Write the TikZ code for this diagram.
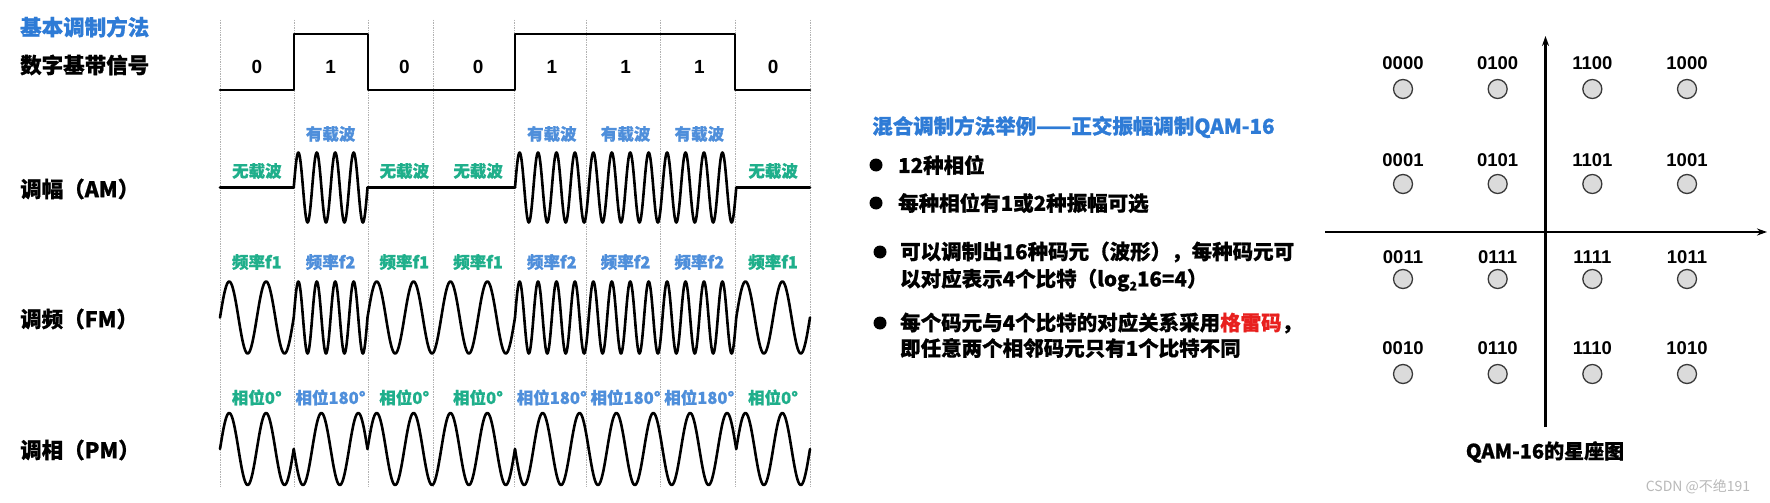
\documentclass[tikz,border=0pt]{standalone}
\usepackage{fontspec}
\setmainfont{Liberation Sans}
\newfontfamily\cjk{Noto Sans CJK SC}[BoldFeatures={FakeBold=0.8}]
\usetikzlibrary{arrows.meta}
\definecolor{tblue}{HTML}{2E7BD6}
\definecolor{lblue}{HTML}{4F8FDB}
\definecolor{lgreen}{HTML}{1FAF8B}
\definecolor{redc}{HTML}{E8201E}
\newcommand{\fsz}[1]{\fontsize{#1}{#1}\selectfont}
\tikzset{
  head/.style={font=\cjk\bfseries\fsz{21.5}, anchor=west, inner sep=0pt},
  bullettext/.style={font=\cjk\bfseries\fsz{20.5}, anchor=west, inner sep=0pt},
  bitlab/.style={font=\bfseries\fsz{19}, inner sep=0pt},
  glab/.style={font=\cjk\bfseries\fsz{16.5}, text=lgreen, inner sep=0pt},
  blab/.style={font=\cjk\bfseries\fsz{16.5}, text=lblue, inner sep=0pt},
  wave/.style={line width=2.6pt, line join=round, line cap=round},
  gridline/.style={gray!60, densely dotted, line width=0.7pt},
  bulletdot/.style={circle, fill=black, minimum size=13pt, inner sep=0pt},
  axisline/.style={line width=2.3pt, -{Stealth[length=10pt,width=7pt]}},
  constpt/.style={circle, fill=gray!28, draw=gray!45!black, line width=1.3pt, minimum size=19pt, inner sep=0pt},
  constlab/.style={font=\bfseries\fsz{18.5}, inner sep=0pt},
}
\begin{document}
\begin{tikzpicture}[x=1pt,y=-1pt]
\useasboundingbox (0,0) rectangle (1770,503);
\fill[white] (0,0) rectangle (1770,503);

% left headings
\node[head, text=tblue] (t1) at (20,27) {基本调制方法};
\node[head] (t2) at (20,65) {数字基带信号};
\node[head] (t3) at (20,189) {调幅（AM）};
\node[head] (t4) at (20,319) {调频（FM）};
\node[head] (t5) at (20,450) {调相（PM）};

% dotted bit boundaries
\foreach \gx in {220,294,368,433,514,586,660,735,810}
  \draw[gridline] (\gx,20) -- (\gx,487);

% baseband signal
\draw[wave] (220,90) -- (294,90) -- (294,34) -- (368,34) -- (368,90) -- (515,90) -- (515,34) -- (735,34) -- (735,90) -- (810,90);

% waveforms per bit
\foreach \b [count=\i from 0] in {0,1,0,0,1,1,1,0}{
  \pgfmathsetmacro\xa{220+73.75*\i}
  \pgfmathsetmacro\xb{\xa+73.75}
  \pgfmathsetmacro\xm{\xa+36.875}
  \node[bitlab] (bit\i) at (\xm,67) {\b};
  \ifnum\b=0
    \draw[wave] (\xa,187.5) -- (\xb,187.5);
    \node[glab] (am\i) at (\xm,171) {无载波};
    \draw[wave] plot[domain=\xa:\xb,samples=97] (\x,{317.5-36*sin(720*((\x-\xa)/73.75))});
    \node[glab] (fm\i) at (\xm,262) {频率f1};
    \draw[wave] plot[domain=\xa:\xb,samples=97] (\x,{449-36*sin(720*((\x-\xa)/73.75))});
    \node[glab] (pm\i) at (\xm,397.5) {相位0°};
  \else
    \draw[wave] plot[domain=\xa:\xb,samples=129] (\x,{187.5-35*sin(1440*((\x-\xa)/73.75))});
    \node[blab] (am\i) at (\xm,134) {有载波};
    \draw[wave] plot[domain=\xa:\xb,samples=129] (\x,{317.5-36*sin(1440*((\x-\xa)/73.75))});
    \node[blab] (fm\i) at (\xm,262) {频率f2};
    \draw[wave] plot[domain=\xa:\xb,samples=97] (\x,{449+36*sin(720*((\x-\xa)/73.75))});
    \node[blab] (pm\i) at (\xm,397.5) {相位180°};
  \fi
}

% middle text
\node[bullettext, text=tblue] (qt) at (872,127) {混合调制方法举例——正交振幅调制QAM-16};
\node[bulletdot] (d1) at (876,165) {};
\node[bullettext] (l1) at (898,165) {12种相位};
\node[bulletdot] (d2) at (876,203) {};
\node[bullettext] (l2) at (898,203) {每种相位有1或2种振幅可选};
\node[bulletdot] (d3) at (880,252) {};
\node[bullettext] (l3a) at (900,252) {可以调制出16种码元（波形），每种码元可};
\node[bullettext] (l3b) at (900,280) {以对应表示4个比特（log{\fsz{12}\raisebox{-4pt}{2}}16=4）};
\node[bulletdot] (d4) at (880,323) {};
\node[bullettext] (l4a) at (900,323) {每个码元与4个比特的对应关系采用{\color{redc}格雷码}，};
\node[bullettext] (l4b) at (900,348) {即任意两个相邻码元只有1个比特不同};

% constellation
\coordinate (vb) at (1545.5,427);
\coordinate (vt) at (1545.5,36);
\coordinate (hl) at (1325,232);
\coordinate (hr) at (1767,232);
\draw[axisline] (vb) -- (vt);
\draw[axisline] (hl) -- (hr);

\foreach \lab [count=\k from 0] in {0000,0100,1100,1000,0001,0101,1101,1001,0011,0111,1111,1011,0010,0110,1110,1010}{
  \pgfmathtruncatemacro\r{int(\k/4)}
  \pgfmathtruncatemacro\c{mod(\k,4)}
  \pgfmathsetmacro\cx{1403+94.6667*\c}
  \pgfmathsetmacro\cy{{89,184,279,374}[\r]}
  \pgfmathsetmacro\ly{{63,160,257,348}[\r]}
  \node[constpt] (p\k) at (\cx,\cy) {};
  \node[constlab] (q\k) at (\cx,\ly) {\lab};
}
\node[font=\cjk\bfseries\fsz{20}, inner sep=0pt] (cap) at (1545,452) {QAM-16的星座图};
\node[font=\cjk\fsz{14}, text=gray!55, inner sep=0pt] (wm) at (1698,487) {CSDN @不绝191};
\end{tikzpicture}
\end{document}
